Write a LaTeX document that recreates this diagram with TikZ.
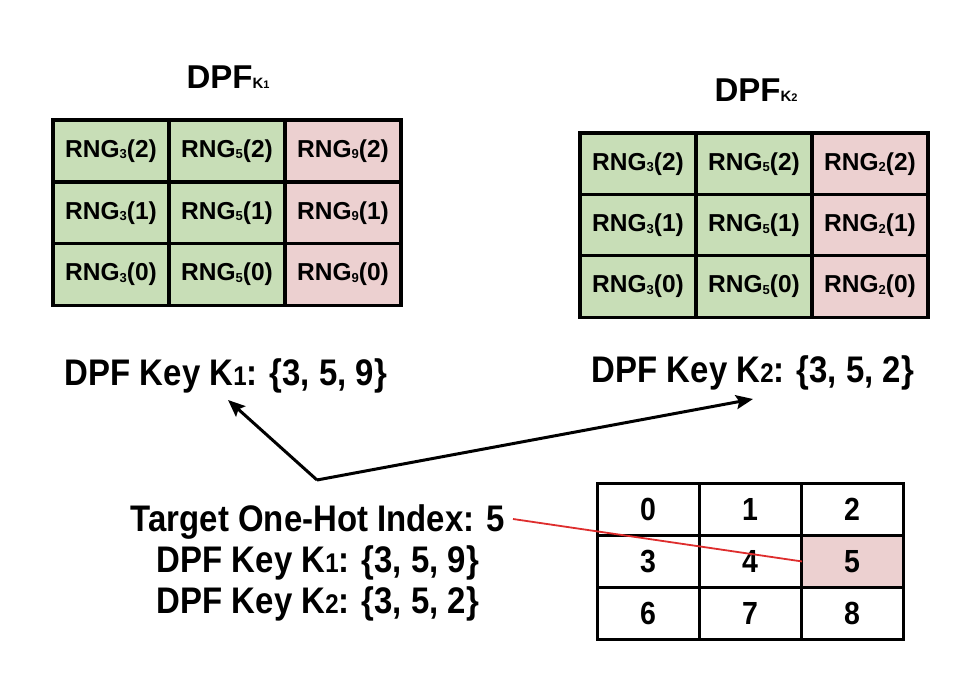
\documentclass[tikz,border=0pt]{standalone}
\usepackage{fontspec}
\setmainfont{Liberation Sans}
\newfontfamily\narrowfont{Liberation Sans}[FakeStretch=0.89]
\usetikzlibrary{arrows.meta}
\definecolor{cellgreen}{RGB}{200,222,183}
\definecolor{cellpink}{RGB}{236,208,208}
\definecolor{hotred}{RGB}{222,45,45}
\newcommand{\mysub}[1]{{\fontsize{13}{13}\selectfont\raisebox{-1.5pt}{#1}}}
\newcommand{\rng}[2]{RNG\mysub{#1}(#2)}
\newcommand{\tinyk}[1]{{\fontsize{15}{15}\selectfont K{\fontsize{11}{11}\selectfont #1}}}
\newcommand{\keyk}[1]{K{\fontsize{27}{27}\selectfont #1}}
\begin{document}
\begin{tikzpicture}[x=1pt,y=-1pt,
  rngcell/.style={draw=black, line width=3.5pt, inner sep=0pt, outer sep=0pt,
    minimum width=116pt, minimum height=61.7pt,
    font=\fontsize{24.5}{24.5}\selectfont\bfseries},
  gcell/.style={rngcell, fill=cellgreen},
  pcell/.style={rngcell, fill=cellpink},
  idxcell/.style={draw=black, line width=3pt, inner sep=0pt, outer sep=0pt,
    minimum width=102pt, minimum height=52.3pt,
    font=\narrowfont\fontsize{32}{32}\selectfont\bfseries},
  title/.style={font=\fontsize{33}{33}\selectfont\bfseries, inner sep=0pt},
  keylabel/.style={font=\narrowfont\fontsize{37}{37}\selectfont\bfseries, inner sep=0pt},
  arr/.style={line width=3pt, -{Stealth[length=17pt,width=14pt,inset=3pt]}}
]
\useasboundingbox (0,0) rectangle (958,676);
\fill[white] (0,0) rectangle (958,676);

% Left grid DPF_K1
\node[title] (t1) at (228,77) {DPF\tinyk{1}};
\foreach \r/\v in {0/2,1/1,2/0}{
  \node[gcell] (a3\v) at (111,{151+\r*61.7}) {\rng{3}{\v}};
  \node[gcell] (a5\v) at (227,{151+\r*61.7}) {\rng{5}{\v}};
  \node[pcell] (a9\v) at (343,{151+\r*61.7}) {\rng{9}{\v}};
}

% Right grid DPF_K2
\node[title] (t2) at (756,90) {DPF\tinyk{2}};
\foreach \r/\v in {0/2,1/1,2/0}{
  \node[gcell] (b3\v) at (638,{164+\r*61.3}) {\rng{3}{\v}};
  \node[gcell] (b5\v) at (754,{164+\r*61.3}) {\rng{5}{\v}};
  \node[pcell] (b2\v) at (870,{164+\r*61.3}) {\rng{2}{\v}};
}

% Key labels
\node[keylabel] (k1) at (226,376) {DPF Key \keyk{1}: \{3, 5, 9\}};
\node[keylabel] (k2) at (753,373) {DPF Key \keyk{2}: \{3, 5, 2\}};

% Arrows
\coordinate (v) at (317,480);
\coordinate (k1tip) at (228,400);
\coordinate (k2tip) at (753,399);
\draw[arr] (v) -- (k1tip);
\draw[arr] (v) -- (k2tip);

% Bottom text
\node[keylabel, anchor=east] (tgt) at (505,522) {Target One-Hot Index: 5};
\node[keylabel] (bk1) at (318,563) {DPF Key \keyk{1}: \{3, 5, 9\}};
\node[keylabel] (bk2) at (318,604) {DPF Key \keyk{2}: \{3, 5, 2\}};

% Index grid
\foreach \n [count=\i from 0] in {0,1,2,3,4,5,6,7,8}{
  \pgfmathtruncatemacro{\col}{mod(\i,3)}
  \pgfmathtruncatemacro{\row}{div(\i,3)}
  \ifnum\n=5
    \node[idxcell, fill=cellpink] (c\n) at ({648+\col*102},{509.15+\row*52.3}) {\n};
  \else
    \node[idxcell] (c\n) at ({648+\col*102},{509.15+\row*52.3}) {\n};
  \fi
}

% Red pointer
\draw[hotred, line width=1.8pt] ([xshift=8pt,yshift=3pt]tgt.east) -- ([xshift=1pt]c5.west);
\end{tikzpicture}
\end{document}
